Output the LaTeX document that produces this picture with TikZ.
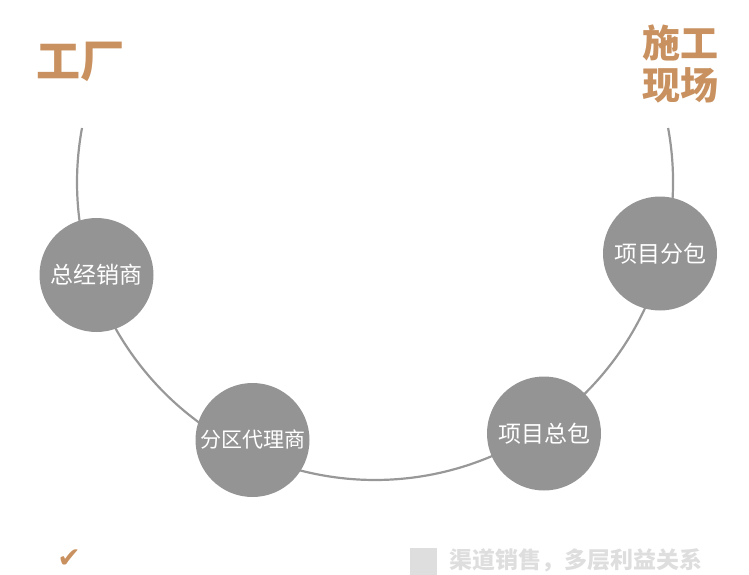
\documentclass[tikz,border=0pt]{standalone}
\usepackage{fontspec}
\newfontfamily\cjk{Noto Sans CJK SC}
\newfontfamily\symb{DejaVu Sans}
\usepackage{xcolor}
\usepackage{tikz}
\usetikzlibrary{positioning}

\definecolor{tan}{RGB}{200,145,95}
\definecolor{ball}{RGB}{148,148,148}
\definecolor{ring}{RGB}{152,152,152}
\definecolor{faint}{RGB}{222,222,222}

\begin{document}
\begin{tikzpicture}[x=1pt, y=-1pt,
  stage/.style={circle, fill=ball, minimum size=114pt, inner sep=0pt,
    text=white, font=\cjk\fontsize{23}{23}\selectfont},
  title/.style={text=tan, inner sep=0pt, align=center,
    font=\cjk\bfseries\fontsize{38}{42}\selectfont}]

  \useasboundingbox (0,0) rectangle (749,575);

  % Channel path from factory to site
  \coordinate (pathstart) at (82,128);
  \draw[ring, line width=2.2pt] (pathstart)
    arc[start angle=190.44, end angle=-10.44, radius=298];

  % Ends of the chain
  \node[title, font=\cjk\bfseries\fontsize{44}{44}\selectfont] (factory) at (80,62) {工厂};
  \node[title] (site) at (680,64) {施工\\现场};

  % Links of the chain
  \node[stage] (zjxs) at (96.5,275) {总经销商};
  \node[stage, font=\cjk\fontsize{21}{21}\selectfont] (fqdl) at (252.5,440) {分区代理商};
  \node[stage] (xmzb) at (544,433.5) {项目总包};
  \node[stage] (xmfb) at (660,253.5) {项目分包};

  % Footer
  \node[text=tan, inner sep=0pt, font=\symb\fontsize{28}{28}\selectfont] (tick) at (69,559) {✔};
  \node[fill=faint, minimum size=27pt, inner sep=0pt] (legend) at (423.5,561.5) {};
  \node[anchor=west, text=faint, inner sep=0pt,
    font=\cjk\bfseries\fontsize{23}{23}\selectfont] (note) at (449,560) {渠道销售，多层利益关系};

\end{tikzpicture}
\end{document}
